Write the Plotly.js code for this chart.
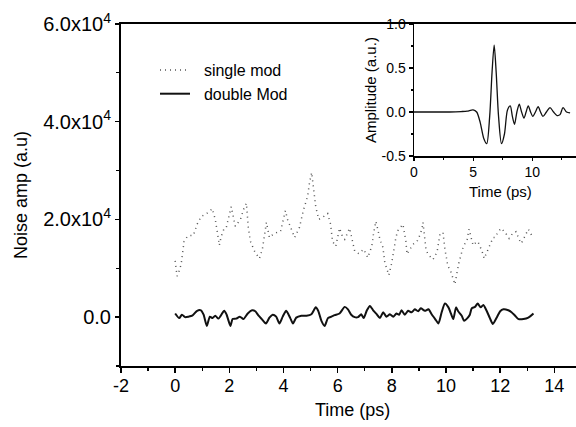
<!DOCTYPE html>
<html><head><meta charset="utf-8">
<script src="https://cdn.plot.ly/plotly-3.0.1.min.js"></script>
<style>html,body{margin:0;padding:0;background:#fff}#chart{width:576px;height:427px}</style>
</head><body><div id="chart"></div>
<script>
// single mod (dotted)
const singleT = [0.00,0.07,0.15,0.22,0.33,0.45,0.52,0.67,0.81,0.96,1.10,1.26,1.37,1.48,1.56,1.63,1.70,1.81,1.89,2.07,2.22,2.41,2.52,2.63,2.70,2.78,2.93,3.11,3.22,3.26,3.37,3.48,3.55,3.74,3.89,4.07,4.15,4.41,4.59,4.74,4.89,4.96,5.04,5.19,5.30,5.44,5.63,5.74,5.81,5.93,6.07,6.19,6.26,6.44,6.56,6.63,6.78,6.96,7.11,7.26,7.33,7.41,7.48,7.56,7.67,7.74,7.89,8.00,8.15,8.22,8.41,8.52,8.56,8.67,8.78,8.93,9.00,9.11,9.15,9.26,9.33,9.52,9.67,9.78,9.89,9.96,10.07,10.15,10.22,10.33,10.41,10.48,10.63,10.78,10.85,11.00,11.15,11.19,11.33,11.41,11.74,11.81,11.93,12.04,12.19,12.33,12.48,12.59,12.70,12.78,12.89,13.04,13.19];
const singleV = [11500,8400,9500,10800,15500,16500,16700,16700,19000,20600,21000,21600,22200,20000,17300,14700,16500,18200,18400,22600,18600,20000,22000,23300,18400,15500,13500,12000,13900,15500,19400,16300,16700,17300,17500,21800,20000,16300,18400,22000,24700,27500,29600,22600,20000,20400,21200,19000,15500,14500,18200,16300,15900,18200,15300,13500,13000,13900,12200,14500,17300,19600,18000,15900,14300,11200,8600,11200,16300,17700,19000,15500,12900,13900,14900,15500,16300,18000,19400,13900,12900,11800,13300,17100,17300,13900,10400,9800,8400,6700,9200,11200,14300,15900,18000,14700,15500,15300,13500,12000,16300,16300,17500,18200,17300,16100,17300,17500,15900,15100,16300,18000,16500];
// double Mod (solid)
const doubleT = [0.00,0.15,0.25,0.37,0.50,0.63,0.81,0.95,1.05,1.17,1.28,1.38,1.48,1.60,1.81,1.90,2.04,2.12,2.25,2.39,2.52,2.68,2.84,2.96,3.08,3.20,3.35,3.48,3.60,3.73,3.85,3.97,4.10,4.25,4.35,4.47,4.66,4.85,5.03,5.19,5.28,5.40,5.52,5.64,5.77,5.89,6.07,6.26,6.38,6.50,6.63,6.75,6.87,6.96,7.08,7.19,7.31,7.44,7.56,7.68,7.80,7.93,8.05,8.17,8.27,8.36,8.48,8.60,8.73,8.85,8.97,9.07,9.22,9.35,9.47,9.60,9.72,9.84,9.96,10.09,10.18,10.27,10.37,10.45,10.58,10.67,10.79,10.88,10.95,11.07,11.17,11.28,11.38,11.50,11.62,11.73,11.88,12.00,12.12,12.30,12.42,12.55,12.68,12.86,13.04,13.23];
const doubleV = [750,-200,500,0,100,300,1300,1400,500,-1800,100,-200,300,-300,1300,500,-1800,-400,-300,100,-400,750,1400,1200,300,-400,-1300,-100,500,100,-1300,100,1300,-200,-1300,-100,300,300,600,2000,1300,-750,-1800,-200,100,400,750,2100,1600,500,0,0,600,-200,1400,2300,1400,600,-200,1000,100,600,100,750,500,1400,500,1300,1000,1600,1200,1800,1300,1600,600,-400,-1300,1000,2800,2000,750,-400,2000,1200,300,-750,-200,500,1800,2100,2800,2000,2500,1300,-200,-1400,0,1200,1600,1400,1000,300,-400,-400,-100,750];
// inset pulse
const insetT = [0,1,2,3,4,4.5,5.0,5.3,5.6,5.9,6.15,6.4,6.6,6.78,6.95,7.15,7.4,7.65,7.9,8.14,8.32,8.5,8.7,8.9,9.1,9.3,9.48,9.66,9.86,10.05,10.27,10.5,10.7,10.9,11.2,11.5,11.8,12.1,12.35,12.6,12.9,13.2];
const insetA = [0,0,0,0,0.005,0.01,0.025,0.0,-0.12,-0.3,-0.36,-0.05,0.45,0.76,0.45,-0.05,-0.36,-0.25,0.02,0.07,-0.05,-0.14,0.0,0.09,0.0,-0.07,0.0,0.07,0.0,-0.05,0.0,0.06,0.0,-0.05,0.0,0.05,0.0,-0.04,-0.03,0.05,0.0,-0.01];

const xTickVals = [-2,0,2,4,6,8,10,12,14];
const xTickText = ["-2","0","2","4","6","8","10","12","14"];
const yTickVals = [0,20000,40000,60000];
const yTickText = ["0.0","2.0x10<sup>4</sup>","4.0x10<sup>4</sup>","6.0x10<sup>4</sup>"];
const insetYTicks = [-0.5,0.0,0.5,1.0];
const insetYText = ["-0.5","0.0","0.5","1.0"];
const insetXTicks = [0,5,10];
const insetXText = ["0","5","10"];

const W = 576, H = 427;
const FONT = "Liberation Sans, Arial, Helvetica, sans-serif";
const px = v => v / W, py = v => (H - v) / H;

const traces = [
  {x: singleT, y: singleV, type: 'scatter', mode: 'lines', name: '\u00a0\u00a0single mod',
   line: {color: '#555', width: 1.5, dash: '1px,4px'}, xaxis: 'x', yaxis: 'y'},
  {x: doubleT, y: doubleV, type: 'scatter', mode: 'lines', name: '\u00a0\u00a0double Mod',
   line: {color: '#111', width: 2, shape: 'spline', smoothing: 0.6}, xaxis: 'x', yaxis: 'y'},
  {x: insetT, y: insetA, type: 'scatter', mode: 'lines', showlegend: false,
   line: {color: '#111', width: 1.3, shape: 'spline', smoothing: 0.8}, xaxis: 'x2', yaxis: 'y2'}
];

const axBase = {showgrid: false, zeroline: false, showline: true, linecolor: '#000',
  ticks: 'outside', tickcolor: '#000', fixedrange: true};

const layout = {
  width: W, height: H, margin: {l: 0, r: 0, t: 0, b: 0},
  paper_bgcolor: '#fff', plot_bgcolor: '#fff',
  font: {family: FONT, color: '#000'},
  showlegend: true,
  legend: {x: px(155), y: py(53), xanchor: 'left', yanchor: 'top', bgcolor: 'rgba(0,0,0,0)',
    font: {size: 16, family: FONT}, itemwidth: 30},
  xaxis: Object.assign({}, axBase, {domain: [px(121), 1], range: [-2, 14.8], anchor: 'y',
    tickmode: 'array', tickvals: xTickVals, ticktext: xTickText, ticklen: 5, tickwidth: 1.5, linewidth: 2, mirror: true,
    tickfont: {size: 18}, ticklabelstandoff: -3,
    minor: {tickmode: 'linear', tick0: -1, dtick: 1, ticks: 'outside', ticklen: 3, tickcolor: '#000', tickwidth: 1.2}}),
  yaxis: Object.assign({}, axBase, {domain: [(H - 366) / H, (H - 24) / H], range: [-10000, 60000], anchor: 'x',
    tickmode: 'array', tickvals: yTickVals, ticktext: yTickText, ticklen: 4, tickwidth: 1.5, linewidth: 2,
    tickfont: {size: 20},
    minor: {tickmode: 'linear', tick0: -10000, dtick: 10000, ticks: 'outside', ticklen: 3, tickcolor: '#000', tickwidth: 1.2}}),
  xaxis2: Object.assign({}, axBase, {domain: [px(414), 1], range: [0, 13.7], anchor: 'y2',
    tickmode: 'array', tickvals: insetXTicks, ticktext: insetXText, ticklen: 3, tickwidth: 1.2, linewidth: 1.5,
    tickfont: {size: 14},
    minor: {tickmode: 'linear', tick0: 0, dtick: 2.5, ticks: 'outside', ticklen: 2, tickcolor: '#000'}}),
  yaxis2: Object.assign({}, axBase, {domain: [(H - 156) / H, (H - 24) / H], range: [-0.5, 1.0], anchor: 'x2',
    tickmode: 'array', tickvals: insetYTicks, ticktext: insetYText, ticklen: 4, tickwidth: 1.2, linewidth: 1.5,
    tickfont: {size: 14},
    minor: {tickmode: 'linear', tick0: -0.5, dtick: 0.25, ticks: 'outside', ticklen: 2, tickcolor: '#000'}}),
  annotations: [
    {text: 'Noise amp (a.u)', xref: 'paper', yref: 'paper', x: px(21), y: py(195), textangle: -90,
     showarrow: false, xanchor: 'center', yanchor: 'middle', font: {size: 18}},
    {text: 'Time (ps)', xref: 'paper', yref: 'paper', x: px(352), y: py(410),
     showarrow: false, xanchor: 'center', yanchor: 'middle', font: {size: 18}},
    {text: 'Amplitude (a.u.)', xref: 'paper', yref: 'paper', x: px(370), y: py(90), textangle: -90,
     showarrow: false, xanchor: 'center', yanchor: 'middle', font: {size: 15}},
    {text: 'Time (ps)', xref: 'paper', yref: 'paper', x: px(500), y: py(191),
     showarrow: false, xanchor: 'center', yanchor: 'middle', font: {size: 15}}
  ]
};

Plotly.newPlot('chart', traces, layout, {displayModeBar: false, staticPlot: true});
</script></body></html>
